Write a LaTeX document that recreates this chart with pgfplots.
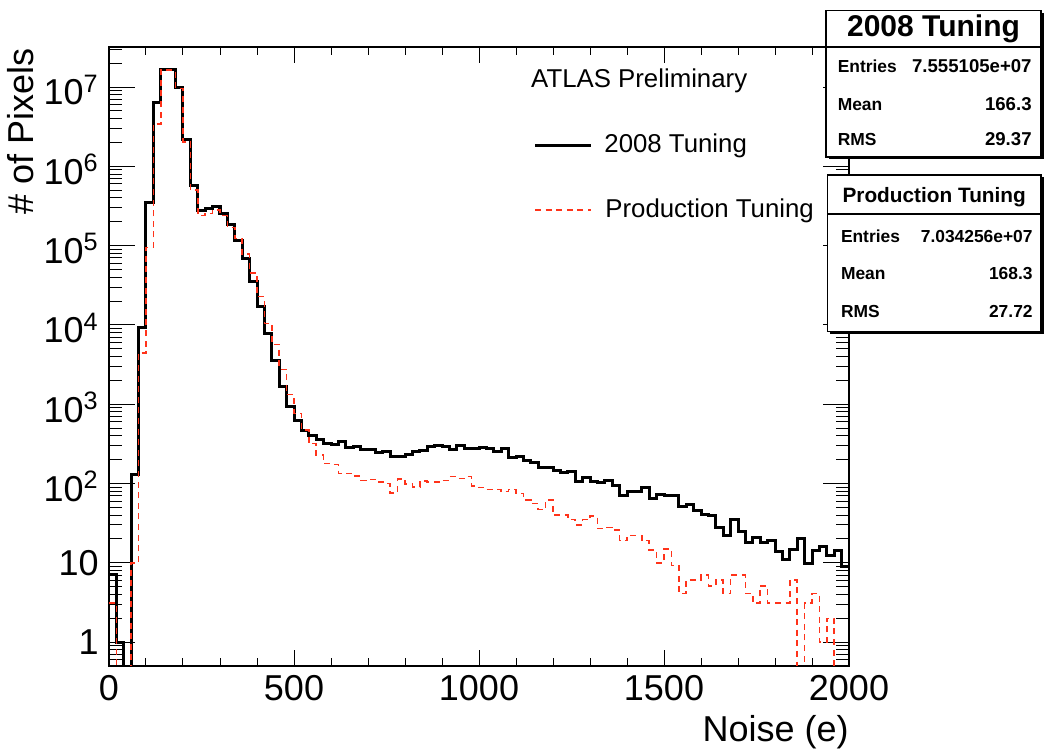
\documentclass[border=0pt]{standalone}
\usepackage{fontspec}
\setmainfont{Liberation Sans}
\usepackage{pgfplots}
\pgfplotsset{compat=1.18}
\definecolor{rootred}{RGB}{255,51,26}
\newcommand{\pw}[1]{10\textsuperscript{#1}\rule{0pt}{18pt}}

\begin{document}
\begin{tikzpicture}
\useasboundingbox (-54.5pt,-41.5pt) rectangle (467.5pt,333pt);
\begin{axis}[
    at={(0pt,0pt)}, anchor=south west,
    scale only axis, width=370pt, height=309.5pt,
    xmin=0, xmax=2000, ymin=0.5, ymax=3.2e7,
    ymode=log,
    xtick={0,500,1000,1500,2000},
    minor x tick num=4,
    ytick={1,10,100,1000,10000,100000,1000000,10000000},
    yticklabels={1,10,\pw{2},\pw{3},\pw{4},\pw{5},\pw{6},\pw{7}},
    minor ytick={0.6,0.7,0.8,0.9,2,3,4,5,6,7,8,9,20,30,40,50,60,70,80,90,
      200,300,400,500,600,700,800,900,2000,3000,4000,5000,6000,7000,8000,9000,
      2e4,3e4,4e4,5e4,6e4,7e4,8e4,9e4,2e5,3e5,4e5,5e5,6e5,7e5,8e5,9e5,
      2e6,3e6,4e6,5e6,6e6,7e6,8e6,9e6,2e7,3e7},
    major tick length=13pt, minor tick length=6.5pt,
    xtick style={/pgfplots/major tick length=7.8pt, /pgfplots/minor tick length=3.8pt},
    tick style={black, line width=0.5pt},
    axis line style={line width=1pt},
    /pgf/number format/1000 sep={},
    /pgf/number format/assume math mode=true,
    xticklabel style={font=\fontsize{18}{20}\selectfont, inner sep=0pt, yshift=-4.5pt},
    yticklabel style={font=\fontsize{18}{20}\selectfont, inner sep=0pt, xshift=-5pt},
]
% 2008 tuning, 20 e bins
\addplot[const plot, black, line width=1.5pt] coordinates {
 (0,7.1) (20,1.0) (40,0.1) (60,130) (80,9300) (100,3.5e5) (120,6.4e6) (140,1.67e7) (160,1.67e7) (180,9.9e6)
 (200,2.2e6) (220,5.7e5) (240,2.75e5) (260,2.9e5) (280,3.1e5) (300,2.55e5) (320,1.85e5) (340,1.17e5) (360,6.8e4) (380,3.5e4)
 (400,1.7e4) (420,7700) (440,3600) (460,1680) (480,930) (500,615) (520,460) (540,400) (560,360) (580,320)
 (600,311) (620,343) (640,285) (660,290) (680,272) (700,272) (720,244) (740,251) (760,222) (780,222)
 (800,235) (820,251) (840,259) (860,290) (880,299) (900,290) (920,269) (940,302) (960,277) (980,277)
 (1000,285) (1020,277) (1040,251) (1060,277) (1080,211) (1100,217) (1120,194) (1140,185) (1160,160) (1180,160)
 (1200,148) (1220,138) (1240,143) (1260,107) (1280,118) (1300,105) (1320,102) (1340,108) (1360,95) (1380,71)
 (1400,79) (1420,80) (1440,89) (1460,64) (1480,73) (1500,70) (1520,70) (1540,52) (1560,55) (1580,46)
 (1600,41) (1620,39) (1640,28) (1660,22) (1680,35) (1700,25) (1720,18) (1740,21) (1760,18) (1780,19)
 (1800,13.8) (1820,11) (1840,14.7) (1860,20) (1880,9.8) (1900,14.2) (1920,16.2) (1940,12.2) (1960,14.2) (1980,9.1)
 (2000,9.1)
};
% production tuning
\addplot[const plot, rootred, line width=0.75pt, dash pattern=on 3pt off 2.3pt] coordinates {
 (0,3.1) (20,0.1) (40,0.1) (60,10) (80,4450) (100,9.5e4) (120,3.4e6) (140,1.63e7) (160,1.63e7) (180,9.6e6)
 (200,2.04e6) (220,5.0e5) (240,2.4e5) (260,2.55e5) (280,2.8e5) (300,2.4e5) (320,1.7e5) (340,1.23e5) (360,7.8e4) (380,4.5e4)
 (400,2.3e4) (420,1.04e4) (440,5700) (460,2750) (480,1330) (500,766) (520,471) (540,320) (560,228) (580,179)
 (600,174) (620,134) (640,134) (660,124) (680,110) (700,113) (720,105) (740,100) (760,76) (780,114)
 (800,98) (820,91) (840,108) (860,105) (880,105) (900,110) (920,122) (940,116) (960,122) (980,93)
 (1000,89) (1020,84) (1040,84) (1060,79) (1080,84) (1100,75) (1120,62) (1140,56) (1160,47) (1180,62)
 (1200,40) (1220,40) (1240,35) (1260,30) (1280,35) (1300,39) (1320,27) (1340,28) (1360,26) (1380,19)
 (1400,22) (1420,22) (1440,19) (1460,14.5) (1480,10) (1500,15) (1520,9.2) (1540,4.1) (1560,6.1) (1580,6.1)
 (1600,7) (1620,5.1) (1640,6.1) (1660,4.1) (1680,7) (1700,7) (1720,4.1) (1740,3.1) (1760,5.1) (1780,3.1)
 (1800,3.1) (1820,3.1) (1840,6.1) (1860,0.1) (1880,3.1) (1900,4.1) (1920,1) (1940,2) (1960,0.1) (1980,0.1)
 (2000,0.1)
};
\end{axis}

% axis titles
\node[anchor=base east, inner sep=0pt, font=\fontsize{18}{20}\selectfont] at (370pt,-38pt) {Noise (e)};
\node[rotate=90, anchor=base east, inner sep=0pt, font=\fontsize{18}{20}\selectfont] at (-37.9pt,309pt) {\# of Pixels};

% text and legend
\node[anchor=base west, inner sep=0pt, font=\fontsize{12.9}{15}\selectfont] at (210.9pt,289.2pt) {ATLAS Preliminary};
\draw[black, line width=1.5pt] (213pt,260pt) -- (241pt,260pt);
\node[anchor=base west, inner sep=0pt, font=\fontsize{12.9}{15}\selectfont] at (247.5pt,256.7pt) {2008 Tuning};
\draw[rootred, line width=0.75pt, dash pattern=on 3pt off 2.3pt] (213pt,228pt) -- (241pt,228pt);
\node[anchor=base west, inner sep=0pt, font=\fontsize{12.9}{15}\selectfont] at (248pt,224.2pt) {Production Tuning};

% stat box 1
\fill[black] (359.75pt,253.25pt) rectangle (467.25pt,326.45pt);
\draw[fill=white, line width=0.6pt] (358.5pt,254.5pt) rectangle (466pt,327.7pt);
\draw[line width=0.6pt] (358.5pt,309.5pt) -- (466pt,309.5pt);
\node[anchor=base, inner sep=0pt, font=\fontsize{15}{17}\selectfont\bfseries] at (412.25pt,314.5pt) {2008 Tuning};
\node[anchor=base west, inner sep=0pt, font=\fontsize{8.7}{10}\selectfont\bfseries] at (364.2pt,296.5pt) {Entries};
\node[anchor=base east, inner sep=0pt, font=\fontsize{9.3}{11}\selectfont\bfseries] at (461.5pt,296.5pt) {7.555105e+07};
\node[anchor=base west, inner sep=0pt, font=\fontsize{8.7}{10}\selectfont\bfseries] at (364.2pt,277.5pt) {Mean};
\node[anchor=base east, inner sep=0pt, font=\fontsize{9.3}{11}\selectfont\bfseries] at (461.5pt,277.5pt) {166.3};
\node[anchor=base west, inner sep=0pt, font=\fontsize{8.7}{10}\selectfont\bfseries] at (364.2pt,260pt) {RMS};
\node[anchor=base east, inner sep=0pt, font=\fontsize{9.3}{11}\selectfont\bfseries] at (461.5pt,260pt) {29.37};

% stat box 2
\fill[black] (360.45pt,165.95pt) rectangle (467.25pt,244.25pt);
\draw[fill=white, line width=0.6pt] (359.2pt,167.2pt) rectangle (466pt,245.5pt);
\draw[line width=0.6pt] (359.2pt,226pt) -- (466pt,226pt);
\node[anchor=base, inner sep=0pt, font=\fontsize{10.4}{12}\selectfont\bfseries] at (412.6pt,231.5pt) {Production Tuning};
\node[anchor=base west, inner sep=0pt, font=\fontsize{8.7}{10}\selectfont\bfseries] at (365.8pt,211.7pt) {Entries};
\node[anchor=base east, inner sep=0pt, font=\fontsize{8.7}{10}\selectfont\bfseries] at (462pt,211.7pt) {7.034256e+07};
\node[anchor=base west, inner sep=0pt, font=\fontsize{8.7}{10}\selectfont\bfseries] at (365.8pt,193pt) {Mean};
\node[anchor=base east, inner sep=0pt, font=\fontsize{8.7}{10}\selectfont\bfseries] at (462pt,193pt) {168.3};
\node[anchor=base west, inner sep=0pt, font=\fontsize{8.7}{10}\selectfont\bfseries] at (365.8pt,174pt) {RMS};
\node[anchor=base east, inner sep=0pt, font=\fontsize{8.7}{10}\selectfont\bfseries] at (462pt,174pt) {27.72};
\end{tikzpicture}
\end{document}
